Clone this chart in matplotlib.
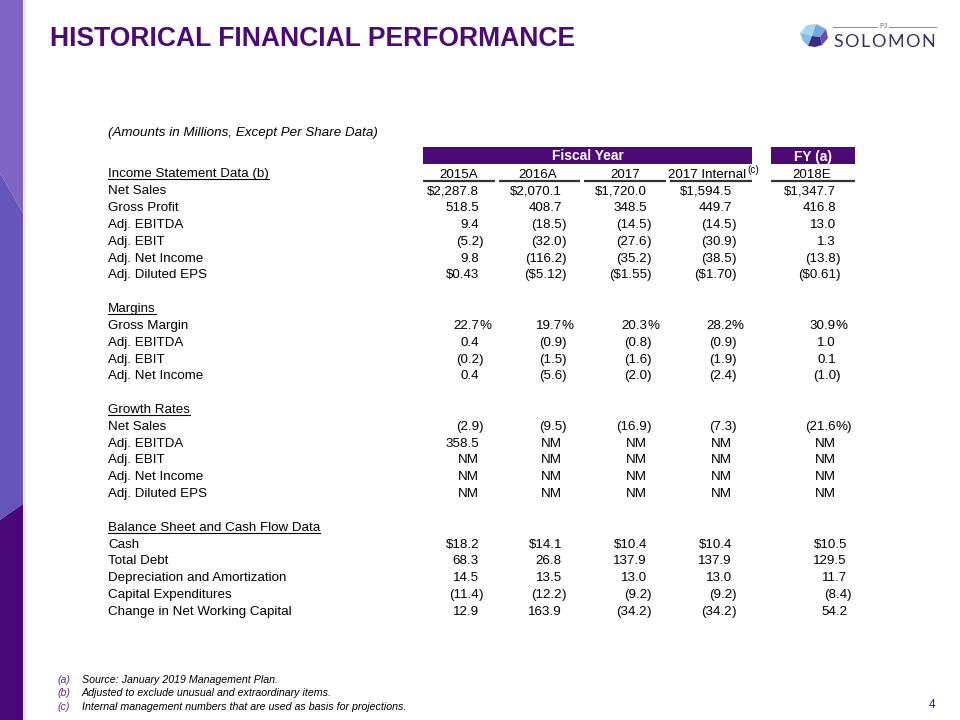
import matplotlib
matplotlib.use("Agg")
import matplotlib.pyplot as plt
from matplotlib.patches import Polygon, Rectangle

# ---------------- data ----------------
title = "HISTORICAL FINANCIAL PERFORMANCE"
subtitle = "(Amounts in Millions, Except Per Share Data)"
group_headers = ["Fiscal Year", "FY (a)"]
col_labels = ["2015A", "2016A", "2017", "2017 Internal", "2018E"]

income_title = "Income Statement Data (b)"
income_rows = ["Net Sales", "Gross Profit", "Adj. EBITDA", "Adj. EBIT", "Adj. Net Income", "Adj. Diluted EPS"]
income_vals = [
    ["$2,287.8", "$2,070.1", "$1,720.0", "$1,594.5", "$1,347.7"],
    ["518.5", "408.7", "348.5", "449.7", "416.8"],
    ["9.4", "(18.5)", "(14.5)", "(14.5)", "13.0"],
    ["(5.2)", "(32.0)", "(27.6)", "(30.9)", "1.3"],
    ["9.8", "(116.2)", "(35.2)", "(38.5)", "(13.8)"],
    ["$0.43", "($5.12)", "($1.55)", "($1.70)", "($0.61)"],
]

margin_title = "Margins"
margin_rows = ["Gross Margin", "Adj. EBITDA", "Adj. EBIT", "Adj. Net Income"]
margin_vals = [
    ["22.7%", "19.7%", "20.3%", "28.2%", "30.9%"],
    ["0.4", "(0.9)", "(0.8)", "(0.9)", "1.0"],
    ["(0.2)", "(1.5)", "(1.6)", "(1.9)", "0.1"],
    ["0.4", "(5.6)", "(2.0)", "(2.4)", "(1.0)"],
]

growth_title = "Growth Rates"
growth_rows = ["Net Sales", "Adj. EBITDA", "Adj. EBIT", "Adj. Net Income", "Adj. Diluted EPS"]
growth_vals = [
    ["(2.9)", "(9.5)", "(16.9)", "(7.3)", "(21.6%)"],
    ["358.5", "NM", "NM", "NM", "NM"],
    ["NM", "NM", "NM", "NM", "NM"],
    ["NM", "NM", "NM", "NM", "NM"],
    ["NM", "NM", "NM", "NM", "NM"],
]

balance_title = "Balance Sheet and Cash Flow Data"
balance_rows = ["Cash", "Total Debt", "Depreciation and Amortization", "Capital Expenditures",
                "Change in Net Working Capital"]
balance_vals = [
    ["$18.2", "$14.1", "$10.4", "$10.4", "$10.5"],
    ["68.3", "26.8", "137.9", "137.9", "129.5"],
    ["14.5", "13.5", "13.0", "13.0", "11.7"],
    ["(11.4)", "(12.2)", "(9.2)", "(9.2)", "(8.4)"],
    ["12.9", "163.9", "(34.2)", "(34.2)", "54.2"],
]

footnote_keys = ["(a)", "(b)", "(c)"]
footnotes = ["Source: January 2019 Management Plan.",
             "Adjusted to exclude unusual and extraordinary items.",
             "Internal management numbers that are used as basis for projections."]
page_number = "4"
brand = "SOLOMON"

# ---------------- style ----------------
PURPLE = "#4b0a76"
FONT = "Liberation Sans"
FS = 9.6
W, H = 960, 720

fig = plt.figure(figsize=(9.6, 7.2), dpi=100)
ax = fig.add_axes([0, 0, 1, 1])
ax.set_xlim(0, W)
ax.set_ylim(H, 0)
ax.axis("off")
renderer = fig.canvas.get_renderer()

# left decorative bar
ax.add_patch(Polygon([(0, 0), (23, 0), (23, 213), (0, 173)], closed=True, color="#8064c4", lw=0))
ax.add_patch(Polygon([(0, 173), (23, 213), (23, 504), (0, 520)], closed=True, color="#6656bb", lw=0))
ax.add_patch(Polygon([(0, 520), (23, 504), (23, 720), (0, 720)], closed=True, color="#48087a", lw=0))
ax.plot([23.5, 23.5], [0, 720], color="#eadcf4", lw=0.8)

# title
ax.text(50, 46.5, title, fontsize=19.1, fontweight="bold", color=PURPLE, family=FONT,
        ha="left", va="baseline")

# logo
gem = [
    ([(800, 33), (807, 25), (816, 24), (812, 36)], "#a9d5ef"),
    ([(816, 24), (826, 29), (820, 37), (812, 36)], "#72aadd"),
    ([(800, 33), (812, 36), (808, 46), (803, 41)], "#86bde3"),
    ([(826, 29), (828, 38), (822, 45), (820, 37)], "#6a4bb0"),
    ([(812, 36), (820, 37), (822, 45), (815, 47), (808, 46)], "#3b2a88"),
]
for pts, c in gem:
    ax.add_patch(Polygon(pts, closed=True, color=c, lw=0))
ax.plot([833, 877], [26.7, 26.7], color="#8a8a9a", lw=0.7)
ax.plot([889, 936], [26.7, 26.7], color="#8a8a9a", lw=0.7)
ax.text(883, 26.7, "PJ", fontsize=5, color="#6a6a7a", family=FONT, ha="center", va="center")
letters = []
for ch in brand:
    t = ax.text(0, 46.7, ch, fontsize=13, color="#33335f", family="Lato", ha="left", va="baseline")
    letters.append((t, t.get_window_extent(renderer).width))
total = sum(w for _, w in letters)
gap = (102 - total) / (len(letters) - 1)
x = 833
for t, w in letters:
    t.set_x(x)
    x += w + gap

# subtitle
ax.text(108, 136, subtitle, fontsize=FS, fontstyle="italic", family=FONT, ha="left", va="baseline")

# group header bars
ax.add_patch(Rectangle((423, 147), 329, 17, color=PURPLE, lw=0))
ax.add_patch(Rectangle((771, 147), 84, 17, color=PURPLE, lw=0))
ax.text(587.5, 160.5, group_headers[0], fontsize=FS + 0.3, fontweight="bold", color="white", family=FONT,
        ha="center", va="baseline")
ax.text(813, 160.5, group_headers[1], fontsize=FS + 0.3, fontweight="bold", color="white", family=FONT,
        ha="center", va="baseline")

# column headers + underlines
ROW0 = 177.5
STEP = 16.82
col_centers = [459, 538, 625, 707.5, 811.5]
seg = [(423, 495), (499, 580), (584, 666), (670, 752), (771, 855)]
for lbl, cx, (a, b) in zip(col_labels, col_centers, seg):
    ax.text(cx, ROW0, lbl, fontsize=FS, family=FONT, ha="center", va="baseline")
    ax.plot([a, b], [180.5, 180.5], color="#333333", lw=1.6, solid_capstyle="butt")
ax.text(747, 173, "(c)", fontsize=7.2, family=FONT, ha="left", va="baseline")


def header(y, s):
    t = ax.text(108, y, s, fontsize=FS, family=FONT, ha="left", va="baseline")
    bb = t.get_window_extent(renderer)
    ax.plot([bb.x0, bb.x1], [y + 1.8, y + 1.8], color="black", lw=0.8)


def put_value(xr, y, s):
    main = s.rstrip("%)")
    suffix = s[len(main):]
    ax.text(xr, y, main, fontsize=FS, family=FONT, ha="right", va="baseline")
    if suffix:
        ax.text(xr, y, suffix, fontsize=FS, family=FONT, ha="left", va="baseline")


col_right = [479, 562, 647, 732, 836]
col_right_bs = [479, 562, 647, 732, 847]

sections = [
    (0, income_title, income_rows, income_vals, col_right),
    (8, margin_title, margin_rows, margin_vals, col_right),
    (14, growth_title, growth_rows, growth_vals, col_right),
    (21, balance_title, balance_rows, balance_vals, col_right_bs),
]
for start, ttl, rows, vals, cr in sections:
    header(ROW0 + STEP * start, ttl)
    for k, (lbl, rv) in enumerate(zip(rows, vals)):
        y = ROW0 + STEP * (start + 1 + k)
        ax.text(108, y, lbl, fontsize=FS, family=FONT, ha="left", va="baseline")
        for xr, s in zip(cr, rv):
            put_value(xr, y, s)

# footnotes
for i, (k, f) in enumerate(zip(footnote_keys, footnotes)):
    y = 683 + 13.5 * i
    ax.text(58, y, k, fontsize=7.7, fontstyle="italic", color="#5a2a8a", family=FONT, ha="left", va="baseline")
    ax.text(82, y, f, fontsize=7.7, fontstyle="italic", color="black", family=FONT, ha="left", va="baseline")

ax.text(935.5, 708.5, page_number, fontsize=8.5, color=PURPLE, family=FONT, ha="right", va="baseline")

fig.savefig("out.png", dpi=100)
